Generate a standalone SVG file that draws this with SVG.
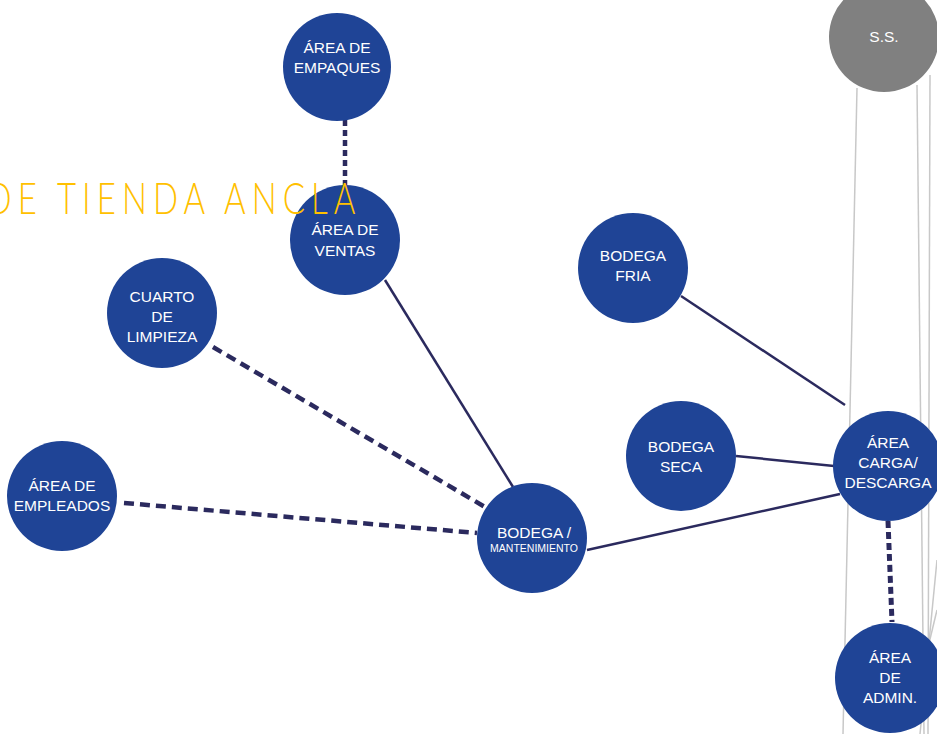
<svg xmlns="http://www.w3.org/2000/svg" width="937" height="734" viewBox="0 0 937 734">
<style>
.n{fill:#1F4496}
.g{fill:#808080}
.t{fill:#fff;font-family:"Liberation Sans",Arial,sans-serif;font-size:15.5px;text-anchor:middle}
.s{font-size:10.5px}
.c{stroke:#2B2A5E;fill:none}
.sol{stroke-width:2.5}
.d{stroke-width:4.5;stroke-dasharray:10 6}
.dv{stroke-width:5;stroke-dasharray:7 4}
.gl{stroke:#C8C8C8;stroke-width:1.5;fill:none}
.title{fill:#FFC000;font-family:Lato,"Liberation Sans",sans-serif;font-weight:300;font-size:44px}
</style>
<rect width="937" height="734" fill="#fff"/>
<g id="bg-lines">
<line class="gl" x1="857" y1="88" x2="843" y2="734"/>
<line class="gl" x1="917" y1="85" x2="924" y2="734"/>
<line class="gl" x1="930" y1="75" x2="928" y2="734"/>
<line class="gl" x1="937" y1="560" x2="920" y2="734"/>
<line class="gl" x1="937" y1="610" x2="925" y2="660"/>
</g>
<g id="connectors">
<line class="c" x1="345" y1="120" x2="345" y2="186" style="stroke-dasharray:6 4;stroke-width:4.5"/>
<line class="c sol" x1="385" y1="280" x2="513" y2="487"/>
<line class="c d" x1="213" y1="347" x2="485" y2="507"/>
<line class="c d" x1="124" y1="503" x2="477" y2="533"/>
<line class="c sol" x1="587" y1="550" x2="840" y2="494"/>
<line class="c sol" x1="681" y1="296" x2="845" y2="405"/>
<line class="c sol" x1="736" y1="456" x2="834" y2="466"/>
<line class="c dv" x1="888" y1="521" x2="892" y2="622"/>
</g>
<g id="ss"><circle class="g" cx="884" cy="37" r="55"/><text class="t" x="884" y="42">S.S.</text></g>
<g id="empaques"><circle class="n" cx="337" cy="67" r="54"/><text class="t" x="337" y="53">ÁREA DE</text><text class="t" x="337" y="73">EMPAQUES</text></g>
<g id="ventas"><circle class="n" cx="345" cy="240" r="55"/><text class="t" x="345" y="235">ÁREA DE</text><text class="t" x="345" y="256">VENTAS</text></g>
<g id="limpieza"><circle class="n" cx="162" cy="313" r="55"/><text class="t" x="162" y="302">CUARTO</text><text class="t" x="162" y="322">DE</text><text class="t" x="162" y="342">LIMPIEZA</text></g>
<g id="empleados"><circle class="n" cx="62" cy="496" r="55"/><text class="t" x="62" y="491">ÁREA DE</text><text class="t" x="62" y="511">EMPLEADOS</text></g>
<g id="bodega-mant"><circle class="n" cx="532" cy="538" r="55"/><text class="t" x="534" y="538">BODEGA /</text><text class="t s" x="534" y="552">MANTENIMIENTO</text></g>
<g id="bodega-fria"><circle class="n" cx="633" cy="268" r="55"/><text class="t" x="633" y="261">BODEGA</text><text class="t" x="633" y="281">FRIA</text></g>
<g id="bodega-seca"><circle class="n" cx="681" cy="456" r="55"/><text class="t" x="681" y="452">BODEGA</text><text class="t" x="681" y="472">SECA</text></g>
<g id="carga"><circle class="n" cx="888" cy="466" r="55"/><text class="t" x="888" y="448">ÁREA</text><text class="t" x="888" y="468">CARGA/</text><text class="t" x="888" y="488">DESCARGA</text></g>
<g id="admin"><circle class="n" cx="890" cy="678" r="55"/><text class="t" x="890" y="663">ÁREA</text><text class="t" x="890" y="683">DE</text><text class="t" x="890" y="703">ADMIN.</text></g>
<text class="title" transform="scale(0.75,1)" x="-18" y="214" textLength="492" lengthAdjust="spacing">DE TIENDA ANCLA</text>
</svg>
